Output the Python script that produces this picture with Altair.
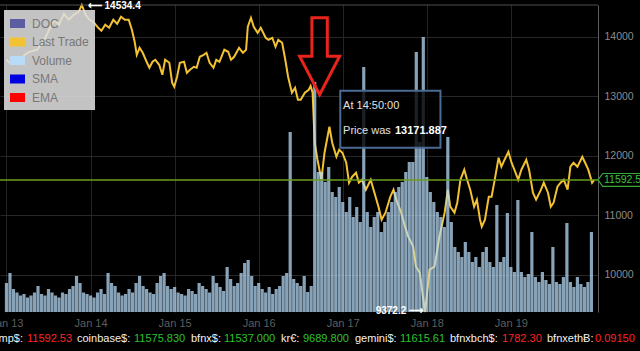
import altair as alt
import pandas as pd

F = "Liberation Sans"
BASE = pd.Timestamp("2018-01-13T00:00:00")

# ---- price (Last Trade): hours after Jan 13 00:00 UTC, price in USD ----
price_hours = [0, 1.0, 2.4, 3.8, 5.2, 6.6, 8.8, 10.8, 12.2, 13.6,
               15.0, 16.4, 17.8, 19.2, 20.6, 21.5, 22.6, 23.7, 24.8, 26.2,
               27.1, 28.2, 29.3, 30.5, 31.6, 32.7, 33.8, 34.9, 35.8, 36.6,
               37.2, 38.0, 38.9, 40.0, 40.8, 41.7,
               42.5, 43.6, 44.5, 45.3, 46.5, 47.3, 47.9, 48.7, 49.5, 50.7,
               51.5, 52.4, 53.5, 54.3, 55.2, 56.3, 57.1, 58.0, 59.1, 59.9,
               60.8, 62.2, 63.3, 64.1, 65.0, 66.4, 67.5, 68.4, 68.9, 69.8,
               70.6, 71.7, 72.6, 74.0, 74.8, 75.9, 76.8, 77.6, 78.7, 79.6,
               80.4, 81.5, 82.4, 83.2,
               84.0, 85.2, 86.3, 86.83, 87.4, 88.0, 88.8, 89.9, 90.8, 92.2,
               93.0, 94.2, 95.0, 95.9, 97.0, 97.8, 98.7, 99.8, 100.6, 101.5,
               102.6, 104.0, 104.8, 106.2, 107.1, 108.2, 109.6, 110.5, 111.3, 112.7,
               113.8, 114.7, 116.1, 116.9, 118.0, 118.9, 119.5, 120.8, 122.2, 123.6,
               125.1, 126.0,
               126.7, 127.9, 128.7, 129.6, 130.7, 131.5, 132.4, 133.5, 134.3, 135.2,
               135.7, 136.6, 137.7, 138.5, 139.4, 140.5, 141.3, 142.2, 143.3, 144.2,
               145.0, 146.1, 147.0, 148.4, 149.2, 150.3, 151.2, 152.6, 153.4, 154.6,
               155.4, 156.2, 157.3, 158.2, 159.1, 160.2, 161.0, 161.9, 163.0, 164.4,
               165.2, 166.1, 167.2, 167.8]
price_values = [13613, 13563, 13664, 13580, 13697, 13748, 13782, 13950, 14118, 14286,
                14202, 14387, 14286, 14370, 14420, 14534.4, 14370, 14286, 14252, 14151,
                14101, 14202, 14151, 14286, 14218, 14336, 14286, 14286, 14118, 13916,
                13697, 13815, 13731, 13580, 13479, 13580,
                13613, 13529, 13361, 13613, 13563, 13227, 13160, 13328, 13563, 13580,
                13395, 13445, 13496, 13479, 13664, 13697, 13731, 13563, 13479, 13613,
                13580, 13782, 13748, 13613, 13664, 13815, 13731, 13782, 14168, 14319,
                14168, 14067, 14151, 13983, 13950, 13983, 13832, 13950, 13899, 13613,
                13328, 13059, 13143, 12941,
                12941, 13059, 13109, 13171.887, 13059, 12218, 11933, 11597, 12050, 12487,
                12218, 11983, 12101, 12050, 11882, 11546, 11647, 11714, 11546, 11597,
                11429, 11597, 11429, 11143, 10924, 11042, 11311, 11429, 11260, 11042,
                10807, 10639, 10471, 10134, 10034, 9630, 9372.2, 10084, 10134, 10639,
                11042, 11429,
                11143, 11042, 11210, 11597, 11765, 11597, 11429, 11143, 11260, 10924,
                10807, 10924, 11311, 11311, 11597, 11966, 11815, 11933, 12067, 11882,
                11765, 11597, 11765, 11933, 11765, 11378, 11260, 11429, 11546, 11378,
                11143, 11210, 11479, 11546, 11597, 11429, 11815, 11882, 11815, 11983,
                11882, 11765, 11546, 11592.5]

# ---- hourly traded volume (BTC), Jan 13 00:00 .. Jan 19 23:00 ----
volume_values = [
    290, 390, 230, 195, 165, 180, 145, 165, 195, 260, 180, 165, 230, 195, 165, 145, 195, 180, 230, 260, 360, 290, 195, 180,
    165, 145, 195, 230, 180, 390, 290, 260, 195, 165, 180, 230, 195, 290, 360, 260, 230, 195, 180, 290, 360, 390, 260, 230,
    250, 195, 180, 165, 230, 210, 180, 290, 260, 230, 195, 360, 290, 250, 210, 450, 330, 260, 290, 390, 490, 520, 360, 260,
    290, 230, 195, 250, 180, 230, 260, 360, 390, 1800, 330, 290, 260, 360, 200, 260, 2300, 1400, 1400, 1300, 1450, 1200, 1150, 1250,
    1100, 1000, 1150, 950, 1050, 900, 2450, 1000, 850, 950, 1000, 800, 900, 1000, 1100, 1200, 1250, 1300, 1400, 1500, 1500, 2600, 1700, 2750,
    1350, 1200, 1100, 1000, 950, 850, 1750, 900, 650, 600, 550, 700, 600, 500, 550, 450, 600, 650, 500, 450, 1070, 500, 550, 990,
    450, 400, 1120, 400, 350, 380, 800, 350, 300, 400, 320, 280, 650, 300, 280, 350, 890, 300, 250, 350, 280, 250, 300, 800,
]

legend_names = ["DOC", "Last Trade", "Volume", "SMA", "EMA"]
legend_colors = ["#5c5ca0", "#f2c233", "#b8dcf8", "#0000e0", "#ff0000"]

axis_days = [13, 14, 15, 16, 17, 18, 19]
price_ticks = [10000, 11000, 12000, 13000, 14000]

max_hour, max_price = 21.5, 14534.4
min_hour, min_price = 119.5, 9372.2
last_price = 11592.5
tip_hour, tip_time, tip_price = 86.83, "14:50:00", 13171.887

ticker_text = ["bitstamp$:", "11592.53", "coinbase$:", "11575.830", "bfnx$:", "11537.000",
               "kr€:", "9689.800", "gemini$:", "11615.61", "bfnxbch$:", "1782.30",
               "bfnxethɃ:", "0.09150"]
ticker_kind = ["label", "down", "label", "up", "label", "up", "label", "up",
               "label", "up", "label", "down", "label", "down"]
ticker_x = [23, 27, 77, 134, 191, 224, 281, 303, 355, 400, 450, 502, 547, 595]
kind_color = {"label": "#f2f2f2", "up": "#2cc22c", "down": "#ff2323"}


def iso(h):
    return (BASE + pd.Timedelta(hours=h)).strftime("%Y-%m-%dT%H:%M:%SZ")


def ms(h):
    return int(BASE.value // 10**6 + h * 3600 * 1000)


X_DOMAIN = [ms(-0.42), ms(167.45)]
x_tick_values = [ms((d - 13) * 24) for d in axis_days]

W, H = 598, 307


def X(field="t"):
    return alt.X(f"{field}:T",
                 scale=alt.Scale(type="utc", domain=X_DOMAIN),
                 axis=alt.Axis(values=x_tick_values,
                               labelExpr="utcFormat(datum.value, '%b %d')",
                               labelColor="#5e5e5e", labelFont=F, labelFontSize=11,
                               labelPadding=5, tickSize=0, domain=False, grid=True,
                               gridColor="#242424", title=None, labelFlush=False,
                               labelOverlap=False))


def YP(field="p", axis=None):
    return alt.Y(f"{field}:Q",
                 scale=alt.Scale(domain=[min_price, max_price], nice=False, zero=False),
                 axis=axis)


price_df = pd.DataFrame({"t": [iso(h) for h in price_hours], "p": price_values})
vol_df = pd.DataFrame({"t": [iso(h) for h in range(len(volume_values))],
                       "v": volume_values, "s": ["Volume"] * len(volume_values)})

price_axis = alt.Axis(orient="right", values=price_ticks, format="d", labelColor="#8c8c8c",
                      labelFont=F, labelFontSize=10.5, labelPadding=6, tickSize=0,
                      domainColor="#5e5e5e", grid=True, gridColor="#272727",
                      title=None, labelFlush=False)

line = alt.Chart(price_df).mark_line(color="#f2c233", strokeWidth=2).encode(
    x=X(), y=YP("p", price_axis))

max_df = pd.DataFrame({"t": [iso(max_hour)], "p": [max_price],
                       "label": ["\u27f5 " + f"{max_price}"]})
min_df = pd.DataFrame({"t": [iso(min_hour)], "p": [min_price],
                       "label": [f"{min_price}" + " \u27f6"]})

top_rule = alt.Chart(max_df).mark_rule(color="#505050", strokeWidth=1).encode(y=YP("p"))
max_text = alt.Chart(max_df).mark_text(align="left", baseline="middle", dx=6, dy=1,
                                       color="#ffffff", font=F, fontSize=10,
                                       fontWeight="bold").encode(x=X(), y=YP("p"), text="label:N")
min_text = alt.Chart(min_df).mark_text(align="right", baseline="middle", dx=-2, dy=-1,
                                       color="#ffffff", font=F, fontSize=10,
                                       fontWeight="bold").encode(x=X(), y=YP("p"), text="label:N")

bars = alt.Chart(vol_df).mark_bar(size=3.2, opacity=0.74).encode(
    x=X(),
    y=alt.Y("v:Q", scale=alt.Scale(domain=[0, 3070], nice=False), axis=None),
    color=alt.Color("s:N", scale=alt.Scale(domain=legend_names, range=legend_colors),
                    legend=alt.Legend(title=None, orient="none", legendX=4, legendY=5,
                                      fillColor="rgba(222,222,222,0.88)", padding=6,
                                      labelColor="#787878", labelFont=F, labelFontSize=12,
                                      symbolType="M -1 -0.6 L 1 -0.6 L 1 0.6 L -1 0.6 Z",
                                      symbolSize=225, symbolStrokeWidth=0, symbolOpacity=1,
                                      rowPadding=4.5, labelOffset=7)))

last_df = pd.DataFrame({"p": [last_price], "label": [f"{last_price}"]})
last_rule = alt.Chart(last_df).mark_rule(color="#6c9e1f", strokeWidth=1.4).encode(y=YP("p"))
tag = alt.Chart(last_df).mark_point(
    shape="M -1 0 L -0.78 -0.3 L 1 -0.3 L 1 0.3 L -0.78 0.3 Z", size=1849, filled=True,
    fill="#000000", stroke="#35a835", strokeWidth=1.2, opacity=1).encode(
    x=alt.value(W + 21.5), y=YP("p"))
tag_text = alt.Chart(last_df).mark_text(align="left", baseline="middle", color="#3cc43c",
                                        font=F, fontSize=10.5).encode(
    x=alt.value(W + 6), y=YP("p"), text="label:N")

arrow_df = pd.DataFrame({"t": [iso(89.4)], "p": [13672]})
arrow = alt.Chart(arrow_df).mark_point(
    shape="M -0.2 -1 L 0.2 -1 L 0.2 0 L 0.52 0 L 0 1 L -0.52 0 L -0.2 0 Z",
    size=5929, filled=False, color="#e8241c", strokeWidth=3, opacity=1).encode(
    x=X(), y=YP("p"))

box_df = pd.DataFrame({"t": [iso(95.3)], "t2": [iso(123.9)], "p": [13092], "p2": [12134]})
box = alt.Chart(box_df).mark_rect(fill="#000000", fillOpacity=0.8, stroke="#4a6b94",
                                  strokeWidth=2).encode(
    x=X(), x2="t2:T", y=YP("p"), y2="p2:Q")

tip_df = pd.DataFrame({"t": [iso(96.1), iso(96.1), iso(110.9)],
                       "p": [12840, 12420, 12420],
                       "label": ["At " + tip_time, "Price was", f"{tip_price}"]})
tip_norm = alt.Chart(tip_df.iloc[:2]).mark_text(align="left", baseline="middle",
                                                color="#e2e2e2", font=F, fontSize=11).encode(
    x=X(), y=YP("p"), text="label:N")
tip_bold = alt.Chart(tip_df.iloc[2:]).mark_text(align="left", baseline="middle",
                                                color="#ffffff", font=F, fontSize=11,
                                                fontWeight="bold").encode(
    x=X(), y=YP("p"), text="label:N")

one = pd.DataFrame({"a": [0]})
ticker_layers = []
for txt, kind, px in zip(ticker_text, ticker_kind, ticker_x):
    ticker_layers.append(
        alt.Chart(one).mark_text(align="right" if px == ticker_x[0] else "left",
                                 baseline="middle", font=F, fontSize=11,
                                 color=kind_color[kind]).encode(
            x=alt.value(px), y=alt.value(H + 27), text=alt.value(txt)))

chart = alt.layer(line, top_rule, bars, last_rule, arrow, box, tip_norm, tip_bold,
                  max_text, min_text, tag, tag_text, *ticker_layers).resolve_scale(
    y="independent").properties(
    width=W, height=H,
    padding={"left": 0, "top": 5, "right": 42, "bottom": 39},
    autosize=alt.AutoSizeParams(type="none"),
).configure(background="#000000", font=F).configure_view(stroke=None)

chart.save("out.html", embed_options={"renderer": "svg", "actions": False})
